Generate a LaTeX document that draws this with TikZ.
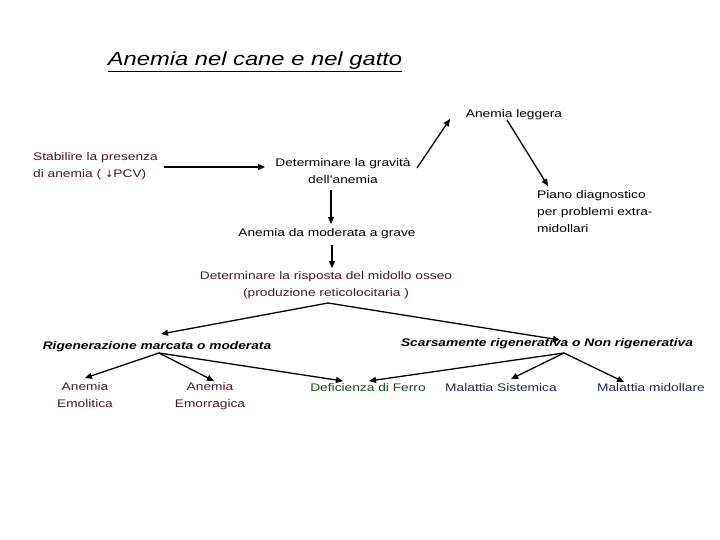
\documentclass[tikz,border=0pt]{standalone}
\usepackage{fontspec}
\setmainfont[FakeStretch=1.25]{Liberation Sans}
\usetikzlibrary{arrows.meta}
\definecolor{mar}{HTML}{4A1530}
\definecolor{grn}{HTML}{1A4A1A}
\definecolor{nav}{HTML}{1A2A5A}
\begin{document}
\begin{tikzpicture}[x=1pt,y=-1pt,
  t/.style={font=\fontsize{11}{17}\selectfont,align=center,inner sep=0pt},
  b/.style={font=\fontsize{11}{17}\selectfont\bfseries\itshape,inner sep=0pt},
  ar/.style={line width=1.3pt,-{Triangle[length=7pt,width=6pt]}}]
\useasboundingbox (0,0) rectangle (720,540);
\node[font=\fontsize{19}{22}\selectfont\itshape,inner sep=0pt] (title) at (255,62) {\underline{Anemia nel cane e nel gatto}};
\node[t,text=mar,align=left,anchor=west] (stab) at (33,166) {Stabilire la presenza\\di anemia ( {\fontspec{DejaVu Sans}\fontsize{10}{12}\selectfont ↓}PCV)};
\node[t] (grav) at (343,171) {Determinare la gravità\\dell'anemia};
\node[t] (legg) at (514,115) {Anemia leggera};
\node[t,align=left,anchor=north west] (piano) at (537,190) {Piano diagnostico\\per problemi extra-\\midollari};
\node[t] (mod) at (327,234) {Anemia da moderata a grave};
\node[t,text=mar] (risp) at (326,285) {Determinare la risposta del midollo osseo\\(produzione reticolocitaria )};
\node[b] (rig) at (157,347) {Rigenerazione marcata o moderata};
\node[b] (scar) at (547,344) {Scarsamente rigenerativa o Non rigenerativa};
\node[t,text=mar] (emol) at (85,395) {Anemia\\Emolitica};
\node[t,text=mar] (emor) at (210,396) {Anemia\\Emorragica};
\node[t,text=grn] (fer) at (368,388) {Deficienza di Ferro};
\node[t,text=nav] (sist) at (501,388) {Malattia Sistemica};
\node[t,text=nav] (mid) at (651,388) {Malattia midollare};
\coordinate (s1) at (164,167);
\coordinate (r0) at (328,303);
\coordinate (g0) at (159,353);
\coordinate (s0) at (564,353);
\draw[ar] (s1) -- (265,167);
\draw[ar] (417,168) -- (450,119);
\draw[ar] (507,120) -- (548,186);
\draw[ar] (331,190) -- (331,224);
\draw[ar] (332,245) -- (332,268);
\draw[ar] (r0) -- (161,334);
\draw[ar] (r0) -- (560,340);
\draw[ar] (g0) -- (85,378);
\draw[ar] (g0) -- (214,381);
\draw[ar] (g0) -- (343,381);
\draw[ar] (s0) -- (369,381);
\draw[ar] (s0) -- (511,379);
\draw[ar] (s0) -- (624,382);
\end{tikzpicture}
\end{document}
